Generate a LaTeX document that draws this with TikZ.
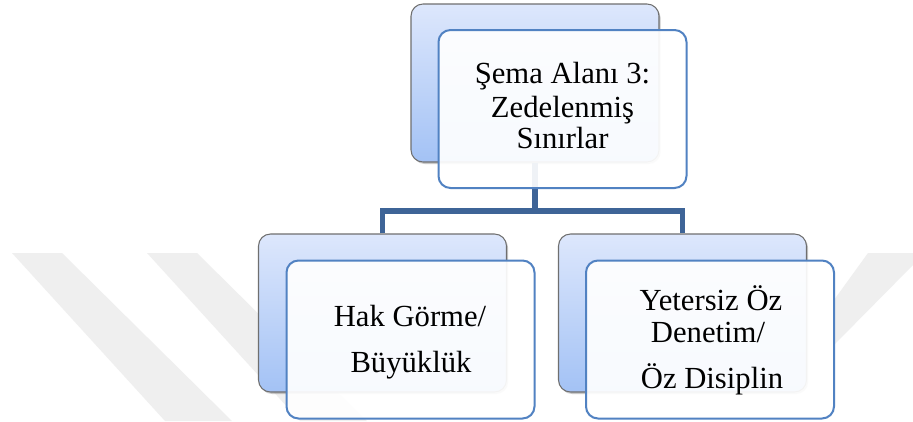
\documentclass[tikz,border=0pt]{standalone}
\usepackage{fontspec}
\setmainfont{Liberation Serif}
\usetikzlibrary{shadows}

\definecolor{backtop}{HTML}{DDE7FC}
\definecolor{backbot}{HTML}{A3C2F5}
\definecolor{backedge}{HTML}{6F6F6F}
\definecolor{frontedge}{HTML}{5182C2}
\definecolor{linkblue}{HTML}{3E6497}
\definecolor{markgray}{HTML}{EFEFEF}

\begin{document}
\begin{tikzpicture}[x=0.75pt,y=-0.75pt,
  backbox/.style={rectangle, rounded corners=9pt, minimum width=186pt,
    minimum height=118.5pt, inner sep=0pt, draw=backedge, line width=0.8pt,
    top color=backtop, bottom color=backbot,
    drop shadow={shadow xshift=1.2pt, shadow yshift=-1.5pt, opacity=0.35, fill=black!60}},
  frontbox/.style={rectangle, rounded corners=9pt, minimum width=186pt,
    minimum height=118.5pt, inner sep=0pt, draw=frontedge, line width=1.5pt,
    fill=white, fill opacity=0.92},
  boxtext/.style={anchor=base, font=\fontsize{23}{24}\selectfont, inner sep=0pt, text=black},
  conn/.style={draw=linkblue, line width=3.8pt},
  wmark/.style={fill=markgray}
]
% canvas
\fill[white] (0,0) rectangle (913,421);
\useasboundingbox (0,0) rectangle (913,421);

% faint background bands
\fill[wmark] (12,253) -- (62,253) -- (232,421) -- (165,421) -- cycle;
\fill[wmark] (147,253) -- (197,253) -- (367,421) -- (300,421) -- cycle;
\fill[wmark] (868,253) -- (913,253) -- (913,265) -- (834,345) -- (834,300) -- cycle;

% rear panels
\node[backbox] (b1) at (535,83) {};
\node[backbox] (b2) at (382.5,313) {};
\node[backbox] (b3) at (682.5,313) {};

% tree connector
\coordinate (bus) at (0,211);
\draw[conn] (b1.south) -- (b1.south |- bus);
\draw[conn] (b2.north) |- (b3.north |- bus) -- (b3.north);

% front panels
\node[frontbox] (f1) at (562.5,109) {};
\node[frontbox] (f2) at (410.5,339.5) {};
\node[frontbox] (f3) at (710,339.5) {};

% labels
\node[boxtext] (t1a) at (562.5,83) {Şema Alanı 3:};
\node[boxtext] (t1b) at (562.5,117) {Zedelenmiş};
\node[boxtext] (t1c) at (562.5,148) {Sınırlar};

\node[boxtext] (t2a) at (410,326) {Hak Görme/};
\node[boxtext] (t2b) at (411,372) {Büyüklük};

\node[boxtext] (t3a) at (711,310) {Yetersiz Öz};
\node[boxtext] (t3b) at (708,342) {Denetim/};
\node[boxtext] (t3c) at (712,388) {Öz Disiplin};
\end{tikzpicture}
\end{document}
